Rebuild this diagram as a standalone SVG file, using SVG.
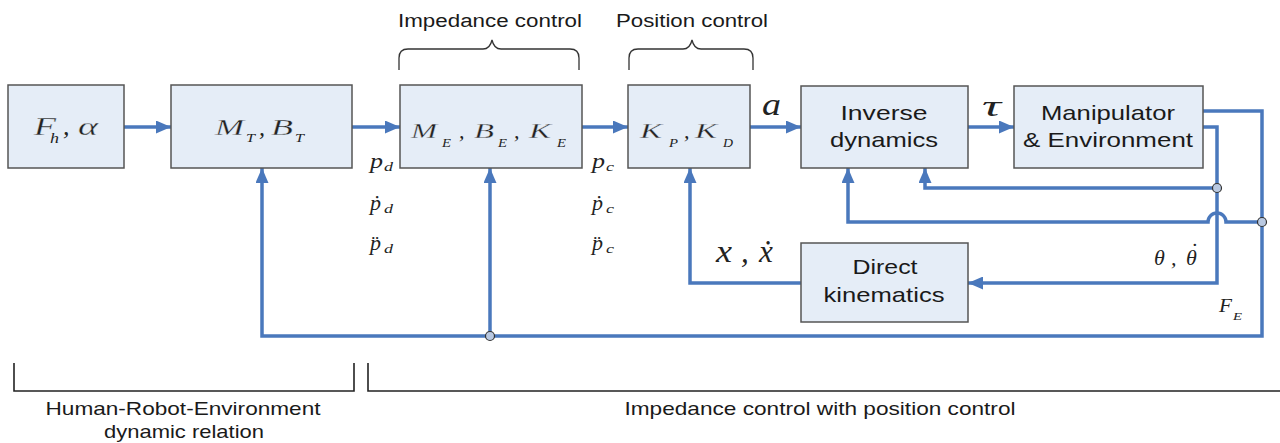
<svg xmlns="http://www.w3.org/2000/svg" width="1280" height="443" viewBox="0 0 1280 443">
  <style>
    .box { fill: #e5edf7; stroke: #555; stroke-width: 1.5; }
    .wire { fill: none; stroke: #4a78bc; stroke-width: 3.5; stroke-linejoin: miter; }
    .dot { fill: #b9c9e2; stroke: #333; stroke-width: 1.2; }
    .brace { fill: none; stroke: #333; stroke-width: 1.3; }
    .bracket { fill: none; stroke: #222; stroke-width: 1.6; }
    .t { font-family: "Liberation Sans", Arial, sans-serif; fill: #1a1a1a; text-anchor: middle; }
    .m { font-family: "Liberation Serif", "Times New Roman", serif; font-style: italic; fill: #222; }
    /* thin down the widened capitals inside the blocks */
    .big { stroke: #e5edf7; stroke-width: 0.3; }
  </style>
  <defs>
    <marker id="arrow" markerUnits="userSpaceOnUse" markerWidth="15" markerHeight="13" viewBox="0 0 15 13" refX="15" refY="6.5" orient="auto">
      <path d="M0,0 L15,6.5 L0,13 z" fill="#4a78bc"/>
    </marker>
  </defs>

  <!-- group braces above the controllers -->
  <g id="braces">
    <path class="brace" d="M399,70 V58 Q399,49 408,49 H483 Q490,49 492,40 Q494,49 501,49 H570 Q579,49 579,58 V70"/>
    <path class="brace" d="M629,70 V58 Q629,49 638,49 H683 Q690,49 692,40 Q694,49 701,49 H744 Q753,49 753,58 V70"/>
    <text class="t" x="490" y="27" font-size="18" textLength="184" lengthAdjust="spacingAndGlyphs">Impedance control</text>
    <text class="t" x="692" y="27" font-size="18" textLength="152" lengthAdjust="spacingAndGlyphs">Position control</text>
  </g>

  <!-- signal lines -->
  <g id="connectors">
    <path class="wire" d="M124,127 H171" marker-end="url(#arrow)"/>
    <path class="wire" d="M352,127 H400" marker-end="url(#arrow)"/>
    <path class="wire" d="M582,127 H628" marker-end="url(#arrow)"/>
    <path class="wire" d="M750,127 H801" marker-end="url(#arrow)"/>
    <path class="wire" d="M968,127 H1014" marker-end="url(#arrow)"/>
    <!-- force feedback F_E -->
    <path class="wire" d="M1203,111 H1262 V336 H262 V168" marker-end="url(#arrow)"/>
    <path class="wire" d="M490,336 V168" marker-end="url(#arrow)"/>
    <path class="wire" d="M1262,222 H1226 A9,9 0 0 0 1208,222 H848 V168" marker-end="url(#arrow)"/>
    <!-- joint state feedback -->
    <path class="wire" d="M1203,127 H1217 V283 H968" marker-end="url(#arrow)"/>
    <path class="wire" d="M1217,188 H925 V168" marker-end="url(#arrow)"/>
    <!-- cartesian state feedback -->
    <path class="wire" d="M801,283 H690 V168" marker-end="url(#arrow)"/>
    <circle class="dot" cx="1217" cy="188" r="4.5"/>
    <circle class="dot" cx="1262" cy="222" r="4.5"/>
    <circle class="dot" cx="490" cy="336" r="4.5"/>
  </g>

  <g id="human-input">
    <rect class="box" x="8" y="85" width="116" height="83"/>
    <text class="m big" x="34" y="135" font-size="26" textLength="22" lengthAdjust="spacingAndGlyphs">F</text>
    <text class="m" x="50" y="143" font-size="15" textLength="9" lengthAdjust="spacingAndGlyphs">h</text>
    <text class="m" x="63" y="135" font-size="26">,</text>
    <text class="m big" x="78" y="135" font-size="26" textLength="20" lengthAdjust="spacingAndGlyphs">α</text>
  </g>

  <g id="human-robot">
    <rect class="box" x="171" y="85" width="181" height="83"/>
    <text class="m big" x="215" y="135" font-size="24" textLength="29" lengthAdjust="spacingAndGlyphs">M</text>
    <text class="m" x="246" y="142" font-size="13" textLength="9" lengthAdjust="spacingAndGlyphs">T</text>
    <text class="m" x="259" y="135" font-size="24">,</text>
    <text class="m big" x="271" y="135" font-size="24" textLength="22" lengthAdjust="spacingAndGlyphs">B</text>
    <text class="m" x="295" y="142" font-size="13" textLength="9" lengthAdjust="spacingAndGlyphs">T</text>
  </g>

  <g id="impedance">
    <rect class="box" x="400" y="85" width="182" height="83"/>
    <text class="m big" x="411" y="138" font-size="22" textLength="26" lengthAdjust="spacingAndGlyphs">M</text>
    <text class="m" x="442" y="147" font-size="12" textLength="9" lengthAdjust="spacingAndGlyphs">E</text>
    <text class="m" x="459" y="138" font-size="22">,</text>
    <text class="m big" x="474" y="138" font-size="22" textLength="20" lengthAdjust="spacingAndGlyphs">B</text>
    <text class="m" x="498" y="147" font-size="12" textLength="9" lengthAdjust="spacingAndGlyphs">E</text>
    <text class="m" x="514" y="138" font-size="22">,</text>
    <text class="m big" x="529" y="138" font-size="22" textLength="22" lengthAdjust="spacingAndGlyphs">K</text>
    <text class="m" x="557" y="147" font-size="12" textLength="9" lengthAdjust="spacingAndGlyphs">E</text>
  </g>

  <g id="position">
    <rect class="box" x="628" y="85" width="122" height="83"/>
    <text class="m big" x="640" y="138" font-size="22" textLength="22" lengthAdjust="spacingAndGlyphs">K</text>
    <text class="m" x="669" y="147" font-size="12" textLength="9" lengthAdjust="spacingAndGlyphs">P</text>
    <text class="m" x="684" y="138" font-size="22">,</text>
    <text class="m big" x="695" y="138" font-size="22" textLength="22" lengthAdjust="spacingAndGlyphs">K</text>
    <text class="m" x="723" y="147" font-size="12" textLength="10" lengthAdjust="spacingAndGlyphs">D</text>
  </g>

  <g id="inverse-dynamics">
    <rect class="box" x="801" y="86" width="167" height="82"/>
    <text class="t" x="884" y="120" font-size="21" textLength="87" lengthAdjust="spacingAndGlyphs">Inverse</text>
    <text class="t" x="884" y="147" font-size="21" textLength="108" lengthAdjust="spacingAndGlyphs">dynamics</text>
  </g>

  <g id="manipulator">
    <rect class="box" x="1014" y="86" width="189" height="82"/>
    <text class="t" x="1108" y="120" font-size="21" textLength="134" lengthAdjust="spacingAndGlyphs">Manipulator</text>
    <text class="t" x="1108" y="147" font-size="21" textLength="170" lengthAdjust="spacingAndGlyphs">&amp; Environment</text>
  </g>

  <g id="direct-kinematics">
    <rect class="box" x="801" y="243" width="167" height="79"/>
    <text class="t" x="885" y="274" font-size="21" textLength="65" lengthAdjust="spacingAndGlyphs">Direct</text>
    <text class="t" x="884" y="302" font-size="21" textLength="121" lengthAdjust="spacingAndGlyphs">kinematics</text>
  </g>

  <!-- signal names -->
  <g id="signals">
    <text class="m" x="370" y="168" font-size="22" textLength="13" lengthAdjust="spacingAndGlyphs">p</text>
    <text class="m" x="384" y="171" font-size="13" textLength="9" lengthAdjust="spacingAndGlyphs">d</text>
    <text class="m" x="370" y="210" font-size="22">ṗ</text>
    <text class="m" x="384" y="213" font-size="13" textLength="9" lengthAdjust="spacingAndGlyphs">d</text>
    <text class="m" x="370" y="250" font-size="22">p̈</text>
    <text class="m" x="384" y="253" font-size="13" textLength="9" lengthAdjust="spacingAndGlyphs">d</text>

    <text class="m" x="592" y="168" font-size="22" textLength="13" lengthAdjust="spacingAndGlyphs">p</text>
    <text class="m" x="606" y="171" font-size="13" textLength="8" lengthAdjust="spacingAndGlyphs">c</text>
    <text class="m" x="592" y="210" font-size="22">ṗ</text>
    <text class="m" x="606" y="213" font-size="13" textLength="8" lengthAdjust="spacingAndGlyphs">c</text>
    <text class="m" x="592" y="250" font-size="22">p̈</text>
    <text class="m" x="606" y="253" font-size="13" textLength="8" lengthAdjust="spacingAndGlyphs">c</text>

    <text class="m" x="762" y="115" font-size="32" textLength="19" lengthAdjust="spacingAndGlyphs">a</text>
    <text class="m" x="982" y="116" font-size="30" textLength="19" lengthAdjust="spacingAndGlyphs">τ</text>

    <text class="m" x="716" y="262" font-size="31" textLength="16" lengthAdjust="spacingAndGlyphs">x</text>
    <text class="m" x="741" y="262" font-size="31">,</text>
    <text class="m" x="759" y="262" font-size="31">ẋ</text>

    <text class="m" x="1154" y="265" font-size="22">θ</text>
    <text class="m" x="1171" y="265" font-size="22">,</text>
    <text class="m" x="1186" y="265" font-size="22">θ<tspan dx="-7" dy="-7">˙</tspan></text>

    <text class="m" x="1219" y="312" font-size="18" textLength="13" lengthAdjust="spacingAndGlyphs">F</text>
    <text class="m" x="1233" y="320" font-size="11" textLength="9" lengthAdjust="spacingAndGlyphs">E</text>
  </g>

  <!-- section brackets along the bottom -->
  <g id="sections">
    <path class="bracket" d="M14,363 V391 H354 V363"/>
    <path class="bracket" d="M368,363 V391 H1280"/>
    <text class="t" x="183" y="415" font-size="19" textLength="275" lengthAdjust="spacingAndGlyphs">Human-Robot-Environment</text>
    <text class="t" x="184" y="438" font-size="19" textLength="160" lengthAdjust="spacingAndGlyphs">dynamic relation</text>
    <text class="t" x="820" y="415" font-size="19" textLength="391" lengthAdjust="spacingAndGlyphs">Impedance control with position control</text>
  </g>
</svg>
